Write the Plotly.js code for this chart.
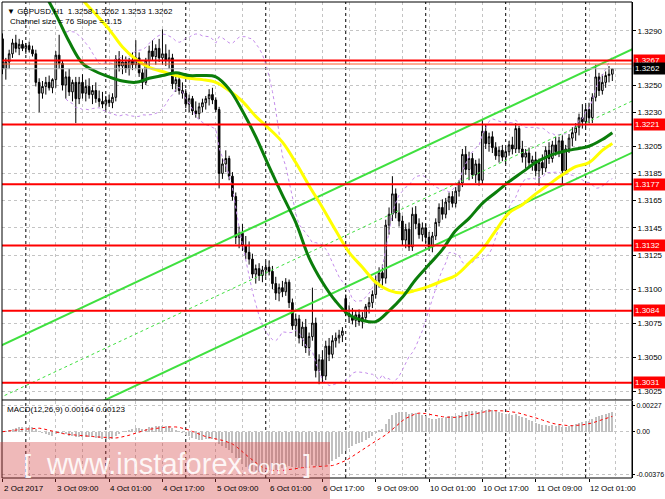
<!DOCTYPE html>
<html><head><meta charset="utf-8">
<script src="https://cdn.plot.ly/plotly-3.0.1.min.js"></script>
<style>html,body{margin:0;padding:0;background:#fff}#chart{width:665px;height:499px}</style>
</head><body><div id="chart"></div>
<script>
// ---- candle data (GBPUSD H1), bar 0 = 2 Oct 2017 17:00 ----
const barOpen=[
1.3284,1.3262,1.3267,1.3273,1.3281,1.3277,1.3280,1.3277,1.3279,1.3276,
1.3273,1.3252,1.3244,1.3249,1.3252,1.3248,1.3254,1.3272,1.3266,1.3250,
1.3256,1.3245,1.3252,1.3240,1.3252,1.3244,1.3249,1.3243,1.3246,1.3240,
1.3238,1.3236,1.3239,1.3237,1.3241,1.3269,1.3264,1.3267,1.3262,1.3268,
1.3265,1.3270,1.3259,1.3252,1.3268,1.3275,1.3271,1.3277,1.3270,1.3273,
1.3268,1.3270,1.3251,1.3254,1.3246,1.3244,1.3236,1.3240,1.3231,1.3229,
1.3234,1.3237,1.3240,1.3243,1.3239,1.3232,1.3185,1.3192,1.3196,1.3183,
1.3168,1.3138,1.3141,1.3132,1.3127,1.3122,1.3111,1.3115,1.3110,1.3114,
1.3116,1.3113,1.3104,1.3097,1.3101,1.3098,1.3105,1.3090,1.3073,1.3078,
1.3064,1.3072,1.3057,1.3065,1.3075,1.3040,1.3048,1.3036,1.3058,1.3052,
1.3062,1.3064,1.3066,1.3093,1.3082,1.3080,1.3077,1.3081,1.3076,1.3079,
1.3087,1.3090,1.3096,1.3106,1.3112,1.3108,1.3147,1.3155,1.3170,1.3156,
1.3150,1.3136,1.3144,1.3131,1.3155,1.3148,1.3140,1.3145,1.3138,1.3131,
1.3139,1.3149,1.3160,1.3155,1.3164,1.3168,1.3163,1.3172,1.3178,1.3199,
1.3188,1.3196,1.3184,1.3192,1.3180,1.3216,1.3207,1.3212,1.3204,1.3198,
1.3202,1.3197,1.3201,1.3206,1.3203,1.3218,1.3203,1.3197,1.3200,1.3193,
1.3195,1.3187,1.3193,1.3189,1.3202,1.3196,1.3206,1.3201,1.3209,1.3187,
1.3203,1.3211,1.3215,1.3219,1.3226,1.3223,1.3232,1.3226,1.3241,1.3256,
1.3246,1.3252,1.3257,1.3258];
const barHigh=[
1.3288,1.3270,1.3276,1.3284,1.3287,1.3284,1.3283,1.3281,1.3282,1.3279,
1.3276,1.3255,1.3253,1.3256,1.3257,1.3255,1.3275,1.3287,1.3268,1.3260,
1.3262,1.3254,1.3256,1.3256,1.3258,1.3254,1.3255,1.3250,1.3252,1.3246,
1.3245,1.3242,1.3243,1.3244,1.3272,1.3275,1.3272,1.3271,1.3270,1.3274,
1.3283,1.3274,1.3262,1.3270,1.3279,1.3283,1.3280,1.3284,1.3291,1.3280,
1.3276,1.3273,1.3258,1.3259,1.3252,1.3247,1.3243,1.3242,1.3238,1.3237,
1.3240,1.3242,1.3247,1.3248,1.3241,1.3234,1.3196,1.3202,1.3198,1.3186,
1.3171,1.3146,1.3148,1.3139,1.3135,1.3126,1.3118,1.3119,1.3117,1.3120,
1.3121,1.3117,1.3109,1.3104,1.3106,1.3108,1.3107,1.3093,1.3082,1.3081,
1.3076,1.3078,1.3068,1.3101,1.3079,1.3052,1.3055,1.3062,1.3064,1.3066,
1.3068,1.3070,1.3072,1.3096,1.3088,1.3086,1.3084,1.3085,1.3083,1.3089,
1.3094,1.3099,1.3110,1.3116,1.3118,1.3151,1.3160,1.3183,1.3174,1.3163,
1.3154,1.3148,1.3149,1.3160,1.3161,1.3152,1.3149,1.3148,1.3142,1.3142,
1.3152,1.3163,1.3166,1.3167,1.3171,1.3172,1.3175,1.3180,1.3203,1.3205,
1.3201,1.3200,1.3195,1.3196,1.3225,1.3221,1.3215,1.3216,1.3208,1.3205,
1.3206,1.3204,1.3209,1.3212,1.3222,1.3220,1.3209,1.3203,1.3204,1.3198,
1.3201,1.3196,1.3199,1.3205,1.3208,1.3209,1.3212,1.3212,1.3213,1.3206,
1.3214,1.3219,1.3222,1.3229,1.3236,1.3235,1.3237,1.3244,1.3265,1.3259,
1.3258,1.3260,1.3264,1.3262];
const barLow=[
1.3258,1.3254,1.3262,1.3270,1.3274,1.3272,1.3275,1.3273,1.3274,1.3271,
1.3249,1.3230,1.3240,1.3243,1.3246,1.3244,1.3248,1.3262,1.3246,1.3240,
1.3242,1.3238,1.3222,1.3236,1.3240,1.3238,1.3240,1.3236,1.3237,1.3234,
1.3233,1.3232,1.3234,1.3233,1.3238,1.3260,1.3258,1.3259,1.3257,1.3261,
1.3262,1.3256,1.3247,1.3250,1.3263,1.3268,1.3265,1.3267,1.3265,1.3264,
1.3262,1.3247,1.3245,1.3243,1.3240,1.3233,1.3230,1.3228,1.3226,1.3225,
1.3230,1.3232,1.3235,1.3236,1.3230,1.3174,1.3181,1.3186,1.3180,1.3165,
1.3133,1.3130,1.3128,1.3122,1.3118,1.3108,1.3104,1.3106,1.3105,1.3109,
1.3110,1.3100,1.3092,1.3091,1.3094,1.3095,1.3086,1.3070,1.3065,1.3060,
1.3058,1.3053,1.3051,1.3062,1.3035,1.3030,1.3031,1.3033,1.3047,1.3049,
1.3057,1.3060,1.3061,1.3080,1.3075,1.3074,1.3072,1.3073,1.3071,1.3077,
1.3082,1.3086,1.3093,1.3101,1.3102,1.3104,1.3140,1.3150,1.3152,1.3146,
1.3132,1.3130,1.3128,1.3128,1.3144,1.3137,1.3135,1.3134,1.3128,1.3127,
1.3136,1.3146,1.3151,1.3152,1.3158,1.3160,1.3160,1.3168,1.3175,1.3184,
1.3180,1.3181,1.3178,1.3176,1.3177,1.3203,1.3201,1.3200,1.3195,1.3193,
1.3194,1.3192,1.3198,1.3199,1.3200,1.3200,1.3193,1.3189,1.3190,1.3187,
1.3183,1.3176,1.3184,1.3186,1.3192,1.3193,1.3198,1.3197,1.3176,1.3184,
1.3200,1.3205,1.3209,1.3213,1.3218,1.3219,1.3222,1.3222,1.3238,1.3242,
1.3243,1.3248,1.3252,1.3253];
const barClose=[
1.3262,1.3267,1.3273,1.3281,1.3277,1.3280,1.3277,1.3279,1.3276,1.3273,
1.3252,1.3244,1.3249,1.3252,1.3248,1.3254,1.3272,1.3266,1.3250,1.3256,
1.3245,1.3252,1.3240,1.3252,1.3244,1.3249,1.3243,1.3246,1.3240,1.3238,
1.3236,1.3239,1.3237,1.3241,1.3269,1.3264,1.3267,1.3262,1.3268,1.3265,
1.3270,1.3259,1.3252,1.3268,1.3275,1.3271,1.3277,1.3270,1.3273,1.3268,
1.3270,1.3251,1.3254,1.3246,1.3244,1.3236,1.3240,1.3231,1.3229,1.3234,
1.3237,1.3240,1.3243,1.3239,1.3232,1.3185,1.3192,1.3196,1.3183,1.3168,
1.3138,1.3141,1.3132,1.3127,1.3122,1.3111,1.3115,1.3110,1.3114,1.3116,
1.3113,1.3104,1.3097,1.3101,1.3098,1.3105,1.3090,1.3073,1.3078,1.3064,
1.3072,1.3057,1.3065,1.3075,1.3040,1.3048,1.3036,1.3058,1.3052,1.3062,
1.3064,1.3066,1.3069,1.3082,1.3080,1.3077,1.3081,1.3076,1.3079,1.3087,
1.3090,1.3096,1.3106,1.3112,1.3108,1.3147,1.3155,1.3170,1.3156,1.3150,
1.3136,1.3144,1.3131,1.3155,1.3148,1.3140,1.3145,1.3138,1.3131,1.3139,
1.3149,1.3160,1.3155,1.3164,1.3168,1.3163,1.3172,1.3178,1.3199,1.3188,
1.3196,1.3184,1.3192,1.3180,1.3216,1.3207,1.3212,1.3204,1.3198,1.3202,
1.3197,1.3201,1.3206,1.3203,1.3218,1.3203,1.3197,1.3200,1.3193,1.3195,
1.3187,1.3193,1.3189,1.3202,1.3196,1.3206,1.3201,1.3209,1.3187,1.3203,
1.3211,1.3215,1.3219,1.3226,1.3223,1.3232,1.3226,1.3241,1.3256,1.3246,
1.3252,1.3257,1.3258,1.3262];

// moving averages (bar index, value)
const fastMaBars=[12,16,20,24,28,32,36,40,44,48,52,56,60,64,68,72,76,80,84,88,92,96,100,104,108,112,116,120,124,128,132,136,140,144,148,152,156,160,164,168,172,176,180,183];
const fastMaValues=[1.3320,1.3302,1.3282,1.3266,1.3260,1.3256,1.3253,1.3252,1.3255,1.3257,1.3259,1.3257,1.3257,1.3256,1.3247,1.3231,1.3212,1.3190,1.3169,1.3149,1.3123,1.3105,1.3091,1.3081,1.3077,1.3076,1.3084,1.3094,1.3107,1.3118,1.3129,1.3143,1.3152,1.3163,1.3171,1.3179,1.3186,1.3193,1.3198,1.3201,1.3203,1.3205,1.3210,1.3215];
const slowMaBars=[20,24,28,32,36,40,44,48,52,56,60,64,68,72,76,80,84,88,92,96,100,104,108,112,116,120,124,128,132,136,140,144,148,152,156,160,164,168,172,176,180,183];
const slowMaValues=[1.3330,1.3313,1.3302,1.3291,1.3278,1.3269,1.3263,1.3260,1.3257,1.3255,1.3254,1.3252,1.3246,1.3238,1.3227,1.3218,1.3208,1.3193,1.3176,1.3160,1.3143,1.3127,1.3116,1.3105,1.3099,1.3097,1.3099,1.3102,1.3106,1.3110,1.3119,1.3129,1.3143,1.3156,1.3162,1.3170,1.3177,1.3184,1.3190,1.3193,1.3202,1.3207];

// equidistant channel (bar, price) end points
const channelBars=[-1,190];
const channelUpper=[1.30578,1.32775];
const channelMiddle=[1.30198,1.32395];
const channelLower=[1.29818,1.32015];

// horizontal levels
const levelPrices=[1.3268,1.3221,1.3177,1.3132,1.3084,1.3031];
const levelLabels=["1.3267","1.3221","1.3177","1.3132","1.3084","1.3031"];
const currentPrice=1.3262;

// axis ticks
const timeTickBars=[0,16,32,48,64,80,96,112,128,144,160,176];
const timeTickLabels=["2 Oct 2017","3 Oct 09:00","4 Oct 01:00","4 Oct 17:00","5 Oct 09:00","6 Oct 01:00","6 Oct 17:00","9 Oct 09:00","10 Oct 01:00","10 Oct 17:00","11 Oct 09:00","12 Oct 01:00"];
const daySeparatorBars=[7,31,55,79,103,127,151,175];
const priceTicks=[1.3290,1.3250,1.3230,1.3205,1.3185,1.3165,1.3145,1.3125,1.3100,1.3075,1.3050,1.3025];
const macdTicks=[0.00227,0,-0.00376];
const macdTickLabels=["0.00227","0.00","-0.00376"];

// ---- indicator computation from closes ----
const idx=barClose.map((_,i)=>i);
function ema(arr,n){const k=2/(n+1);const out=[];let e=arr[0];arr.forEach((v,i)=>{e=i===0?v:v*k+e*(1-k);out.push(e);});return out;}
const e12=ema(barClose,12),e26=ema(barClose,26);
const macd=e12.map((v,i)=>v-e26[i]);
const signal=macd.map((_,i)=>{const s=Math.max(0,i-8);const w=macd.slice(s,i+1);return w.reduce((a,b)=>a+b,0)/w.length;});
const bbUp=[],bbDn=[],bbX=[];
for(let i=19;i<barClose.length;i++){const w=barClose.slice(i-19,i+1);const m=w.reduce((a,b)=>a+b,0)/20;const sd=Math.sqrt(w.reduce((a,b)=>a+(b-m)*(b-m),0)/20);bbX.push(i);bbUp.push(m+2*sd);bbDn.push(m-2*sd);}

const FONT='Liberation Sans, Arial, sans-serif';
const purple='rgb(196,140,235)';
const traces=[
 {type:'scatter',x:bbX,y:bbUp,mode:'lines',line:{color:purple,width:1,dash:'dot'},hoverinfo:'skip'},
 {type:'scatter',x:bbX,y:bbDn,mode:'lines',line:{color:purple,width:1,dash:'dot'},hoverinfo:'skip'},
 {type:'scatter',x:channelBars,y:channelUpper,mode:'lines',line:{color:'#3fe03f',width:2},hoverinfo:'skip'},
 {type:'scatter',x:channelBars,y:channelLower,mode:'lines',line:{color:'#3fe03f',width:2},hoverinfo:'skip'},
 {type:'scatter',x:channelBars,y:channelMiddle,mode:'lines',line:{color:'#3fe03f',width:1,dash:'dot'},hoverinfo:'skip'},
 {type:'scatter',x:slowMaBars,y:slowMaValues,mode:'lines',line:{color:'#ffff00',width:3,shape:'spline'},hoverinfo:'skip'},
 {type:'scatter',x:fastMaBars,y:fastMaValues,mode:'lines',line:{color:'#0b7d0b',width:3,shape:'spline'},hoverinfo:'skip'},
 {type:'candlestick',x:idx,open:barOpen,high:barHigh,low:barLow,close:barClose,
  increasing:{line:{color:'#000',width:1},fillcolor:'#fff'},
  decreasing:{line:{color:'#000',width:1},fillcolor:'#000'},whiskerwidth:0,hoverinfo:'skip'},
 {type:'bar',x:idx,y:macd,yaxis:'y2',marker:{color:'#c0c0c0',line:{width:0}},width:0.6,hoverinfo:'skip'},
 {type:'scatter',x:idx,y:signal,yaxis:'y2',mode:'lines',line:{color:'#ff0000',width:1,dash:'dot'},hoverinfo:'skip'}
];

const shapes=[];
levelPrices.forEach(p=>shapes.push({type:'line',xref:'paper',x0:0,x1:1,yref:'y',y0:p,y1:p,line:{color:'#ff0000',width:2},layer:'above'}));
shapes.push({type:'line',xref:'paper',x0:0,x1:1,yref:'y',y0:1.32655,y1:1.32655,line:{color:'#ff5a2a',width:1},layer:'above'});
shapes.push({type:'line',xref:'paper',x0:0,x1:1,yref:'y',y0:currentPrice,y1:currentPrice,line:{color:'#b8b8b8',width:1}});
daySeparatorBars.forEach(b=>shapes.push({type:'line',xref:'x',x0:b,x1:b,yref:'paper',y0:0,y1:1,line:{color:'#000',width:1,dash:'3px,3px'},layer:'below'}));
shapes.push({type:'rect',xref:'paper',yref:'paper',x0:0,x1:1,y0:0,y1:1,line:{color:'#000',width:1}});
shapes.push({type:'line',xref:'paper',yref:'paper',x0:0,x1:1,y0:0.1639,y1:0.1639,line:{color:'#000',width:1}});
// watermark panel
shapes.push({type:'rect',xref:'paper',yref:'paper',x0:-0.01,x1:0.5206,y0:-0.05,y1:0.0756,line:{width:0},fillcolor:'rgba(210,60,60,0.36)',layer:'above'});

const WM='rgba(255,255,255,0.88)';
const annotations=[
 {xref:'paper',yref:'paper',x:0.005,y:0.993,xanchor:'left',yanchor:'top',text:'▼ GBPUSD,H1  1.3258 1.3262 1.3253 1.3262',showarrow:false,font:{family:FONT,size:8,color:'#000'}},
 {xref:'paper',yref:'paper',x:0.01,y:0.973,xanchor:'left',yanchor:'top',text:'Channel size = 76 Slope = 1.15',showarrow:false,font:{family:FONT,size:8,color:'#000'}},
 {xref:'paper',yref:'paper',x:0.005,y:0.158,xanchor:'left',yanchor:'top',text:'MACD(12,26,9) 0.00164 0.00123',showarrow:false,font:{family:FONT,size:8,color:'#000'}},
 {xref:'paper',yref:'paper',x:0.03,y:0.029,xanchor:'left',yanchor:'middle',text:'[',showarrow:false,font:{family:'DejaVu Sans, sans-serif',size:27,color:WM}},
 {xref:'paper',yref:'paper',x:0.066,y:0.029,xanchor:'left',yanchor:'middle',text:'www.instaforex<span style="font-size:21px">.com</span>',showarrow:false,font:{family:'Liberation Sans, Arial, sans-serif',size:29,color:WM}},
 {xref:'paper',yref:'paper',x:0.472,y:0.029,xanchor:'left',yanchor:'middle',text:']',showarrow:false,font:{family:'DejaVu Sans, sans-serif',size:27,color:WM}}
];
levelPrices.forEach((p,i)=>annotations.push({xref:'paper',x:1,xanchor:'left',yref:'y',y:p,yanchor:'middle',text:levelLabels[i],showarrow:false,bgcolor:'#ff0000',font:{family:FONT,size:8,color:'#fff'},borderpad:1,width:29,align:'left',xshift:1}));
annotations.push({xref:'paper',x:1,xanchor:'left',yref:'y',y:currentPrice,yanchor:'middle',text:'1.3262',showarrow:false,bgcolor:'#000',font:{family:FONT,size:8,color:'#fff'},borderpad:1,width:29,align:'left',xshift:1});
timeTickBars.forEach((b,i)=>annotations.push({xref:'x',x:b,xanchor:'left',yref:'paper',y:-0.023,yanchor:'middle',text:timeTickLabels[i],showarrow:false,font:{family:FONT,size:8,color:'#000'},xshift:-1}));

const minorGrid=[];for(let b=8;b<190;b+=16)minorGrid.push(b);
const layout={
 width:665,height:499,margin:{l:2,r:33,t:2,b:21},
 paper_bgcolor:'#fff',plot_bgcolor:'#fff',showlegend:false,
 font:{family:FONT,size:8,color:'#000'},
 xaxis:{range:[-0.15,188.9],anchor:'y2',tickmode:'array',tickvals:timeTickBars,showticklabels:false,
   ticks:'outside',ticklen:3,tickcolor:'#000',
   showgrid:true,gridcolor:'#c4c4c4',griddash:'3px,3px',gridwidth:1,
   minor:{tickvals:minorGrid,showgrid:true,gridcolor:'#c4c4c4',griddash:'3px,3px',ticks:''},
   rangeslider:{visible:false},zeroline:false,showline:false},
 yaxis:{domain:[0.1639,1],range:[1.30184,1.33111],side:'right',anchor:'x',tickmode:'array',tickvals:priceTicks,
   tickformat:'.4f',ticks:'outside',ticklen:3,tickcolor:'#000',showgrid:true,gridcolor:'#c4c4c4',griddash:'3px,3px',
   showline:true,linecolor:'#000',zeroline:false,tickfont:{size:8}},
 yaxis2:{domain:[0,0.1618],range:[-0.00404,0.00268],side:'right',anchor:'x',tickmode:'array',tickvals:macdTicks,ticktext:macdTickLabels,
   ticks:'outside',ticklen:2,tickcolor:'#000',showgrid:true,gridcolor:'#c4c4c4',griddash:'3px,3px',showline:true,linecolor:'#000',zeroline:false,
   tickfont:{size:7,family:'Liberation Sans Narrow, Liberation Sans, Arial, sans-serif'}},
 shapes:shapes,annotations:annotations,bargap:0
};
Plotly.newPlot('chart',traces,layout,{staticPlot:true,displayModeBar:false});
</script></body></html>
